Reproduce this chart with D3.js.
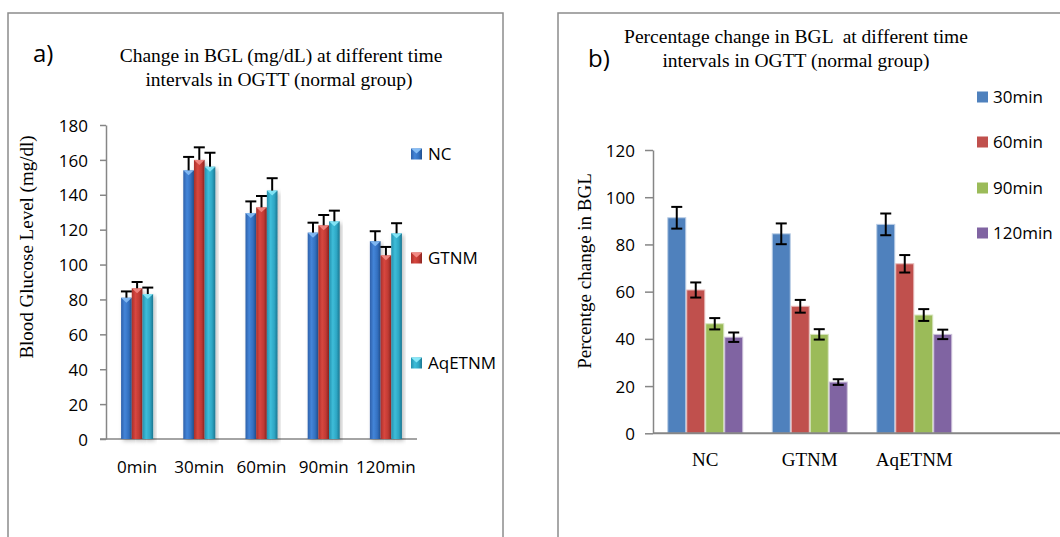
<!DOCTYPE html>
<html>
<head>
<meta charset="utf-8">
<script src="https://cdn.jsdelivr.net/npm/d3@7"></script>
<style>
  body { margin: 0; background: #fff; }
  svg { display: block; }
  .serif { font-family: "Liberation Serif", "Times New Roman", serif; fill: #000; }
  .sans { font-family: "Open Sans", "DejaVu Sans", sans-serif; fill: #000; }
  .axis path, .axis line { stroke: #868686; stroke-width: 1.5; }
  .axis text { font-family: "Open Sans", sans-serif; font-size: 17px; fill: #000; }
</style>
</head>
<body>
<svg id="chart" width="1060" height="537"></svg>
<script>
// ---- chart a data: BGL (mg/dL) per time point
var timeLabels = ["0min", "30min", "60min", "90min", "120min"];
var groupsA = ["NC", "GTNM", "AqETNM"];
var bglNC    = [81, 154, 129.5, 118.3, 113.4];
var bglGTNM  = [86.4, 160, 132.8, 122.5, 105.3];
var bglAq    = [83.1, 156.1, 142.4, 124.8, 117.9];
var errNC    = [3.6, 7.7, 6.7, 5.7, 5.7];
var errGTNM  = [3.6, 7.2, 6.5, 5.9, 4.8];
var errAq    = [3.7, 8.0, 7.1, 6.1, 5.8];
var ticksA   = [0, 20, 40, 60, 80, 100, 120, 140, 160, 180];

// ---- chart b data: percentage change per group
var groupsB = ["NC", "GTNM", "AqETNM"];
var seriesB = ["30min", "60min", "90min", "120min"];
var pct30  = [91.3, 84.5, 88.5];
var pct60  = [60.7, 53.8, 71.8];
var pct90  = [46.4, 41.9, 50.1];
var pct120 = [40.7, 21.7, 41.9];
var err30  = [4.6, 4.4, 4.6];
var err60  = [3.2, 2.7, 3.7];
var err90  = [2.4, 2.2, 2.5];
var err120 = [2.0, 1.2, 2.0];
var ticksB = [0, 20, 40, 60, 80, 100, 120];

var svg = d3.select("#chart");

// frames round both panels
svg.append("rect").attr("x", 8).attr("y", 13).attr("width", 495).attr("height", 540)
  .attr("fill", "none").attr("stroke", "#8c8c8c").attr("stroke-width", 1.5);
svg.append("rect").attr("x", 558).attr("y", 13).attr("width", 520).attr("height", 540)
  .attr("fill", "none").attr("stroke", "#8c8c8c").attr("stroke-width", 1.5);

var defs = svg.append("defs");

// cylinder-like gradients for panel a
var gradStops = {
  NC:     ["#2d60aa", "#4485d8", "#3370c0", "#22508e"],
  GTNM:   ["#a8302b", "#d8473f", "#c03a34", "#8c2521"],
  AqETNM: ["#2490ad", "#3ebdd9", "#2ea6c4", "#1c7690"]
};
var capColor = { NC: "#86bdf5", GTNM: "#f28a84", AqETNM: "#88e8f8" };

groupsA.forEach(function(g) {
  var lg = defs.append("linearGradient").attr("id", "grad-" + g)
    .attr("x1", 0).attr("x2", 1).attr("y1", 0).attr("y2", 0);
  [0, 0.35, 0.7, 1].forEach(function(o, i) {
    lg.append("stop").attr("offset", o).attr("stop-color", gradStops[g][i]);
  });
});

var shadow = defs.append("filter").attr("id", "shadow")
  .attr("x", "-30%").attr("y", "-10%").attr("width", "160%").attr("height", "130%");
shadow.append("feDropShadow").attr("dx", 2).attr("dy", 2)
  .attr("stdDeviation", 2).attr("flood-color", "#000").attr("flood-opacity", 0.25);

// ================= panel a =================
var ya = d3.scaleLinear().domain([0, 180]).range([439, 125]);
var xa = d3.scaleBand().domain(timeLabels).range([106, 417]).paddingInner(0.485).paddingOuter(0.2425);
var xa1 = d3.scaleBand().domain(groupsA).range([0, xa.bandwidth()]);

var seriesA = [
  { key: "NC", vals: bglNC, errs: errNC },
  { key: "GTNM", vals: bglGTNM, errs: errGTNM },
  { key: "AqETNM", vals: bglAq, errs: errAq }
];

svg.append("text").attr("class", "serif").attr("x", 281).attr("y", 62)
  .attr("text-anchor", "middle").style("font-size", "19.5px")
  .text("Change in BGL (mg/dL) at different time");
svg.append("text").attr("class", "serif").attr("x", 279).attr("y", 86)
  .attr("text-anchor", "middle").style("font-size", "19.5px")
  .text("intervals in OGTT (normal group)");
svg.append("text").attr("class", "sans").attr("x", 33).attr("y", 62)
  .style("font-size", "24px").text("a)");

svg.append("text").attr("class", "serif")
  .attr("transform", "translate(33,247) rotate(-90)")
  .attr("text-anchor", "middle").style("font-size", "19px")
  .text("Blood Glucose Level (mg/dl)");

svg.append("g").attr("class", "axis")
  .attr("transform", "translate(106,0)")
  .call(d3.axisLeft(ya).tickValues(ticksA).tickSize(6).tickSizeOuter(0).tickPadding(12))
  .selectAll("text").attr("dy", "0.36em");

svg.append("line").attr("x1", 100).attr("x2", 417).attr("y1", ya(0)).attr("y2", ya(0))
  .attr("stroke", "#868686").attr("stroke-width", 1.5);

seriesA.forEach(function(s) {
  var g = svg.append("g");
  timeLabels.forEach(function(t, i) {
    var x0 = xa(t) + xa1(s.key), w = xa1.bandwidth(), v = s.vals[i];
    g.append("rect").attr("x", x0).attr("y", ya(v))
      .attr("width", w).attr("height", ya(0) - ya(v))
      .attr("fill", "url(#grad-" + s.key + ")").attr("filter", "url(#shadow)");
    g.append("path")
      .attr("d", "M" + x0 + "," + ya(v) + "h" + w + "l" + (-w / 2) + ",5z")
      .attr("fill", capColor[s.key]).attr("opacity", 0.9);
    var top = ya(v + s.errs[i]), cx = x0 + w / 2;
    g.append("line").attr("x1", cx).attr("x2", cx).attr("y1", ya(v)).attr("y2", top)
      .attr("stroke", "#000").attr("stroke-width", 2);
    g.append("line").attr("x1", cx - 5.5).attr("x2", cx + 5.5).attr("y1", top).attr("y2", top)
      .attr("stroke", "#000").attr("stroke-width", 2);
  });
});

svg.selectAll(".xlab-a").data(timeLabels).enter().append("text")
  .attr("class", "sans").attr("x", function(d) { return xa(d) + xa.bandwidth() / 2; })
  .attr("y", 473).attr("text-anchor", "middle").style("font-size", "17px")
  .text(function(d) { return d; });

var legA = [154, 258, 363];
groupsA.forEach(function(g, i) {
  svg.append("rect").attr("x", 411).attr("y", legA[i] - 5.5).attr("width", 11).attr("height", 11)
    .attr("fill", "url(#grad-" + g + ")");
  svg.append("path").attr("d", "M411," + (legA[i] - 5.5) + "h11l-5.5,5z").attr("fill", capColor[g]);
  svg.append("text").attr("class", "sans").attr("x", 428).attr("y", legA[i] + 6)
    .style("font-size", "17px").text(g);
});

// ================= panel b =================
var colorsB = ["#4f81bd", "#c0504d", "#9bbb59", "#8064a2"];
var edgeB = ["#b9cde5", "#e6b9b8", "#d7e4bd", "#ccc1da"];
var yb = d3.scaleLinear().domain([0, 120]).range([433.3, 150]);
var xb = d3.scaleBand().domain(groupsB).range([653, 966.5]).paddingInner(0.273).paddingOuter(0.1365);
var xb1 = d3.scaleBand().domain(seriesB).range([0, xb.bandwidth()]);
var valsB = [pct30, pct60, pct90, pct120];
var errsB = [err30, err60, err90, err120];

svg.append("text").attr("class", "serif").attr("x", 796).attr("y", 43)
  .attr("text-anchor", "middle").style("font-size", "19.5px").style("white-space", "pre")
  .text("Percentage change in BGL  at different time");
svg.append("text").attr("class", "serif").attr("x", 796).attr("y", 67)
  .attr("text-anchor", "middle").style("font-size", "19.5px")
  .text("intervals in OGTT (normal group)");
svg.append("text").attr("class", "sans").attr("x", 588).attr("y", 67)
  .style("font-size", "24px").text("b)");

svg.append("text").attr("class", "serif")
  .attr("transform", "translate(591,271) rotate(-90)")
  .attr("text-anchor", "middle").style("font-size", "19px")
  .text("Percentge change in BGL");

svg.append("g").attr("class", "axis")
  .attr("transform", "translate(653,0)")
  .call(d3.axisLeft(yb).tickValues(ticksB).tickSize(8).tickSizeOuter(0).tickPadding(10))
  .selectAll("text").attr("dy", "0.36em");

seriesB.forEach(function(s, j) {
  groupsB.forEach(function(gname, i) {
    var x0 = xb(gname) + xb1(s), w = xb1.bandwidth(), v = valsB[j][i], e = errsB[j][i];
    svg.append("rect").attr("x", x0 + 0.5).attr("y", yb(v))
      .attr("width", w - 1).attr("height", yb(0) - yb(v))
      .attr("fill", colorsB[j]).attr("stroke", edgeB[j]).attr("stroke-width", 1);
    var cx = x0 + w / 2;
    svg.append("line").attr("x1", cx).attr("x2", cx).attr("y1", yb(v + e)).attr("y2", yb(v - e))
      .attr("stroke", "#000").attr("stroke-width", 2);
    [v + e, v - e].forEach(function(c) {
      svg.append("line").attr("x1", cx - 5.5).attr("x2", cx + 5.5).attr("y1", yb(c)).attr("y2", yb(c))
        .attr("stroke", "#000").attr("stroke-width", 2);
    });
  });
});

svg.append("line").attr("x1", 653).attr("x2", 1060).attr("y1", yb(0)).attr("y2", yb(0))
  .attr("stroke", "#868686").attr("stroke-width", 2);

svg.selectAll(".xlab-b").data(groupsB).enter().append("text")
  .attr("class", "serif").attr("x", function(d) { return xb(d) + xb.bandwidth() / 2; })
  .attr("y", 466).attr("text-anchor", "middle").style("font-size", "19px")
  .text(function(d) { return d; });

var legB = [97, 142, 188, 233];
seriesB.forEach(function(s, j) {
  svg.append("rect").attr("x", 977).attr("y", legB[j] - 5.5).attr("width", 11).attr("height", 11)
    .attr("fill", colorsB[j]);
  svg.append("text").attr("class", "sans").attr("x", 993).attr("y", legB[j] + 6)
    .style("font-size", "17px").text(s);
});
</script>
</body>
</html>
